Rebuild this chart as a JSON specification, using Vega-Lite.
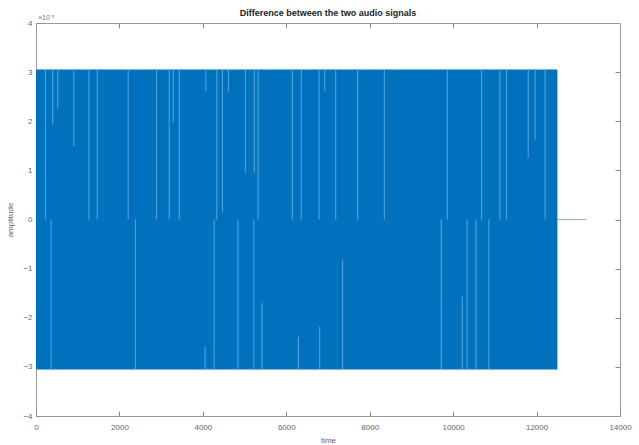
{
  "$schema": "https://vega.github.io/schema/vega-lite/v6.json",
  "width": 584,
  "height": 393,
  "autosize": {"type": "none"},
  "padding": {"left": 36, "top": 23, "right": 19, "bottom": 29},
  "background": "white",
  "title": {
    "text": "Difference between the two audio signals",
    "fontSize": 9,
    "fontWeight": "bold",
    "font": "Liberation Sans",
    "color": "#222222",
    "offset": 0,
    "dy": 4,
    "anchor": "middle"
  },
  "config": {
    "view": {"stroke": "#9a9a9a", "strokeWidth": 1},
    "axis": {
      "grid": false,
      "domain": false,
      "zindex": 0,
      "tickColor": "#8a8a8a",
      "tickWidth": 1,
      "tickSize": 5,
      "offset": -5,
      "labelFont": "Liberation Sans",
      "labelFontSize": 8,
      "labelColor": "#666666",
      "titleFont": "Liberation Sans",
      "titleFontSize": 8,
      "titleFontWeight": "normal",
      "titleColor": "#666666"
    }
  },
  "datasets": {
    "band": [{"start": 0, "end": 12500, "low": -3.0518e-5, "high": 3.0518e-5}],
    "streaks": [
      {"time": 225, "from": 3.0518e-5, "to": 0},
      {"time": 400, "from": 3.0518e-5, "to": 1.93e-5},
      {"time": 520, "from": 3.0518e-5, "to": 2.27e-5},
      {"time": 905, "from": 3.0518e-5, "to": 1.49e-5},
      {"time": 1270, "from": 3.0518e-5, "to": 0},
      {"time": 1470, "from": 3.0518e-5, "to": 0},
      {"time": 2210, "from": 3.0518e-5, "to": 0},
      {"time": 2890, "from": 3.0518e-5, "to": 0},
      {"time": 3195, "from": 3.0518e-5, "to": 0},
      {"time": 3290, "from": 3.0518e-5, "to": 1.97e-5},
      {"time": 3435, "from": 3.0518e-5, "to": 0},
      {"time": 4070, "from": 3.0518e-5, "to": 2.61e-5},
      {"time": 4335, "from": 3.0518e-5, "to": 0},
      {"time": 4470, "from": 3.0518e-5, "to": 0.14e-5},
      {"time": 4615, "from": 3.0518e-5, "to": 2.61e-5},
      {"time": 5020, "from": 3.0518e-5, "to": 0.95e-5},
      {"time": 5235, "from": 3.0518e-5, "to": 0.95e-5},
      {"time": 5325, "from": 3.0518e-5, "to": 0},
      {"time": 6145, "from": 3.0518e-5, "to": 0},
      {"time": 6360, "from": 3.0518e-5, "to": 0},
      {"time": 6785, "from": 3.0518e-5, "to": 0},
      {"time": 6920, "from": 3.0518e-5, "to": 2.61e-5},
      {"time": 7185, "from": 3.0518e-5, "to": 0},
      {"time": 7710, "from": 3.0518e-5, "to": 0},
      {"time": 8350, "from": 3.0518e-5, "to": 0},
      {"time": 9860, "from": 3.0518e-5, "to": 0},
      {"time": 10680, "from": 3.0518e-5, "to": 0},
      {"time": 11120, "from": 3.0518e-5, "to": 0},
      {"time": 11280, "from": 3.0518e-5, "to": 0},
      {"time": 11800, "from": 3.0518e-5, "to": 1.25e-5},
      {"time": 11965, "from": 3.0518e-5, "to": 1.63e-5},
      {"time": 12205, "from": 3.0518e-5, "to": 0},
      {"time": 360, "from": 0, "to": -3.0518e-5},
      {"time": 2385, "from": 0, "to": -3.0518e-5},
      {"time": 4055, "from": -2.59e-5, "to": -3.0518e-5},
      {"time": 4270, "from": 0, "to": -3.0518e-5},
      {"time": 4840, "from": 0, "to": -3.0518e-5},
      {"time": 5220, "from": 0, "to": -3.0518e-5},
      {"time": 5420, "from": -1.7e-5, "to": -3.0518e-5},
      {"time": 6290, "from": -2.38e-5, "to": -3.0518e-5},
      {"time": 6800, "from": -2.18e-5, "to": -3.0518e-5},
      {"time": 7350, "from": -0.82e-5, "to": -3.0518e-5},
      {"time": 9715, "from": 0, "to": -3.0518e-5},
      {"time": 10220, "from": -1.57e-5, "to": -3.0518e-5},
      {"time": 10335, "from": 0, "to": -3.0518e-5},
      {"time": 10545, "from": 0, "to": -3.0518e-5},
      {"time": 10855, "from": 0, "to": -3.0518e-5}
    ],
    "tail": [
      {"time": 12500, "amplitude": 0},
      {"time": 13200, "amplitude": 0}
    ],
    "exponent": [{"time": 0, "amplitude": 4e-5, "label": "×10⁻⁵"}]
  },
  "layer": [
    {
      "data": {"name": "band"},
      "mark": {"type": "rect", "color": "#0072BD"},
      "encoding": {
        "x": {
          "field": "start", "type": "quantitative",
          "scale": {"domain": [0, 14000], "nice": false},
          "axis": {"orient": "bottom", "values": [0, 2000, 4000, 6000, 8000, 10000, 12000, 14000], "format": "d", "title": "time", "labelPadding": 7, "titleY": 25, "labelFlush": false}
        },
        "x2": {"field": "end"},
        "y": {
          "field": "low", "type": "quantitative",
          "scale": {"domain": [-4e-5, 4e-5], "nice": false},
          "axis": {"orient": "left", "values": [-4e-5, -3e-5, -2e-5, -1e-5, 0, 1e-5, 2e-5, 3e-5, 4e-5], "labelExpr": "format(round(datum.value*1e5), 'd')", "title": "amplitude", "labelPadding": 4, "titleX": -27, "labelFlush": false}
        },
        "y2": {"field": "high"}
      }
    },
    {
      "data": {"name": "streaks"},
      "mark": {"type": "rule", "color": "#4FA2DD", "strokeWidth": 1.1},
      "encoding": {
        "x": {"field": "time", "type": "quantitative", "axis": null},
        "y": {"field": "from", "type": "quantitative", "axis": null},
        "y2": {"field": "to"}
      }
    },
    {
      "data": {"name": "tail"},
      "mark": {"type": "line", "color": "#8fb0cc", "strokeWidth": 1},
      "encoding": {
        "x": {"field": "time", "type": "quantitative", "axis": {"orient": "top", "values": [2000, 4000, 6000, 8000, 10000, 12000], "labels": false, "title": null}},
        "y": {"field": "amplitude", "type": "quantitative", "axis": {"orient": "right", "values": [-3e-5, -2e-5, -1e-5, 0, 1e-5, 2e-5, 3e-5], "labels": false, "title": null}}
      }
    },
    {
      "data": {"name": "exponent"},
      "mark": {"type": "text", "align": "left", "baseline": "bottom", "dx": 2, "dy": -2, "fontSize": 7, "font": "Liberation Sans", "color": "#777777", "clip": false},
      "encoding": {
        "x": {"field": "time", "type": "quantitative", "axis": null},
        "y": {"field": "amplitude", "type": "quantitative", "axis": null},
        "text": {"field": "label"}
      }
    }
  ],
  "resolve": {"axis": {"x": "independent", "y": "independent"}}
}
